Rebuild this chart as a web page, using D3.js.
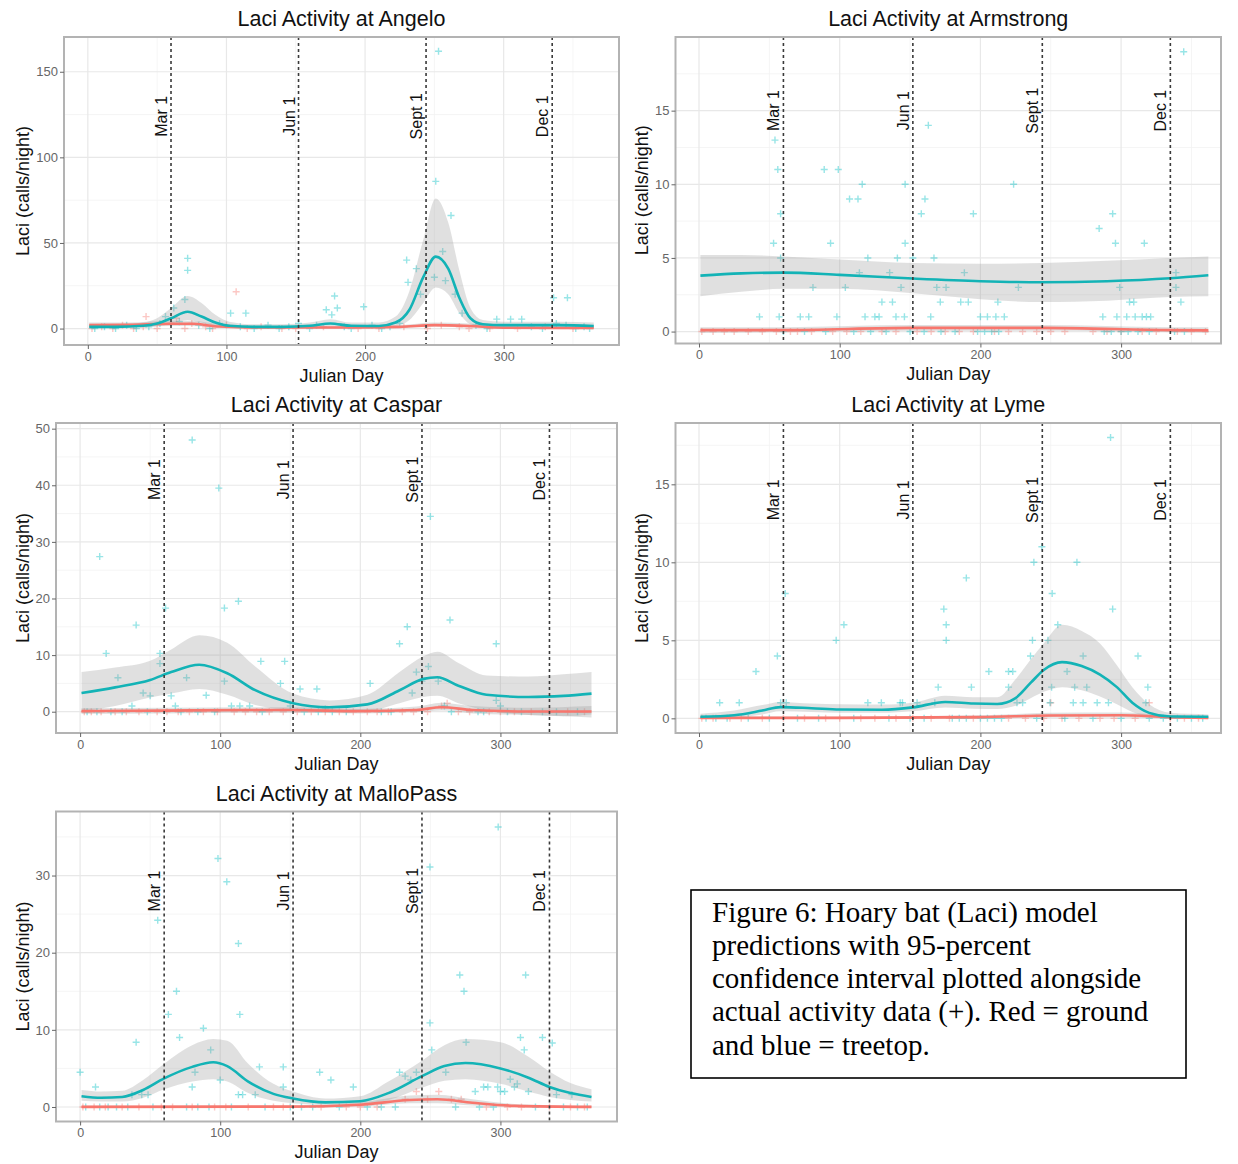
<!DOCTYPE html>
<html>
<head>
<meta charset="utf-8">
<script src="https://cdn.jsdelivr.net/npm/d3@7"></script>
<style>
body { margin: 0; background: #fff; }
svg text { font-family: "Liberation Sans", Arial, sans-serif; }
</style>
</head>
<body>
<svg id="fig" width="1238" height="1164"></svg>
<script>
// ---- data ----
// fits: [day, fit, lower95, upper95]
let angeloTree = [[1,1.0,0.3,2.5],[20,1.0,0.4,2.5],[40,1.6,0.6,3.5],[50,3.0,1.2,6],[60,6.0,2.8,12],[72,9.8,5,19],[82,7.0,3.5,15],[92,3.5,1.5,8],[102,1.6,0.6,4],[120,1.0,0.4,2.5],[140,1.0,0.4,2.5],[160,1.6,0.7,3.5],[175,3.0,1.5,5.5],[190,1.6,0.7,3.5],[210,1.5,0.6,3.5],[222,3.5,1.5,7],[232,11,5,22],[242,30,15,52],[251,42,24,76],[260,35,20,62],[268,18,9,34],[276,6,2.5,12],[285,2.5,1,5],[300,2,0.8,4],[320,2,0.8,4],[340,2,0.8,4],[365,1.5,0.5,3.5]];
let angeloGround = [[1,2,0.8,3.5],[30,2.2,1,3.5],[60,2.8,1.5,4.5],[75,2.8,1.5,4.5],[95,1.2,0.4,2.5],[130,0.6,0.1,1.5],[180,0.6,0.1,1.5],[225,1.0,0.3,2],[250,2.0,1,3.5],[275,1.5,0.6,3],[300,0.5,0.1,1.5],[365,0.3,0,1.2]];
let angeloTreePts = [[72,41],[72,34],[70,17],[62,12],[56,7],[66,4],[114,9],[103,9],[172,11],[178,19],[180,12],[176,8],[199,12.7],[230,40],[231,27],[237,35],[240,20],[253,162],[251,86],[262,66],[256,45],[265,20],[270,9],[295,5.5],[305,5.5],[313,5.5],[336,18],[346,18],[338,3],[250,30],[258,28],[5,0],[12,1],[20,0],[28,2],[35,0],[44,1],[52,3],[80,2],[88,0],[95,3],[110,1],[120,0],[130,2],[138,0],[145,1],[152,3],[160,0],[165,2],[185,1],[190,0],[205,2],[212,0],[218,1],[225,3],[280,2],[288,0],[320,1],[328,0],[345,2],[352,0],[358,1],[362,0]];
let angeloGroundPts = [[42,7],[107,21.5],[60,3],[64,6],[75,3],[85,1],[3,0],[10,1],[18,0],[25,2],[33,0],[40,1],[50,0],[70,0],[90,0],[100,2],[115,0],[125,1],[140,0],[150,0],[170,1],[195,0],[210,0],[228,1],[245,0],[255,2],[268,1],[275,0],[290,0],[310,0],[330,1],[350,0]];

let armstrongTree = [[1,3.8,2.4,5.2],[30,3.95,2.7,5.2],[60,4.0,2.9,5.1],[100,3.85,2.9,4.9],[152,3.6,2.6,4.65],[200,3.42,2.2,4.6],[244,3.35,2.0,4.65],[290,3.42,2.1,4.8],[335,3.62,2.35,5.0],[362,3.82,2.4,5.1]];
let armstrongGround = [[1,0.1,-0.1,0.3],[60,0.1,-0.05,0.3],[152,0.25,0.05,0.45],[244,0.25,0.05,0.45],[335,0.1,-0.05,0.3],[362,0.08,-0.1,0.3]];
let armstrongTreePts = [[54,13],[56,11],[58,8],[53,6],[58,5],[89,11],[99,11],[93.5,6],[81,3],[104,3],[107,9],[113,9],[116,10],[120,5],[114,4],[130,2],[137.5,2],[135.5,4],[141,5],[143.6,3],[146.5,10],[146.5,6],[152,5],[158,8],[160.6,9],[163,14],[167,5],[169,3],[175.6,3],[171.5,2],[164.7,1],[188.6,4],[186,2],[191.4,2],[195,8],[212.4,2],[223.6,10],[227,3],[284.4,7],[294,8],[296,6],[299,3],[306,2],[309,2],[316.5,6],[339,4],[339,3],[342.5,2],[344.5,19],[43,1],[57,1],[72,1],[78,1],[98,1],[118,1],[125,1],[128,1],[140,1],[146,1],[200,1],[205,1],[211,1],[217,1],[287,1],[297,1],[304,1],[310,1],[315,1],[318,1],[321,1],[60,0],[75,0],[90,0],[110,0],[122,0],[133,0],[150,0],[160,0],[172,0],[182,0],[198,0],[203,0],[208,0],[213,0],[288,0],[293,0],[300,0],[305,0],[312,0],[320,0],[338,0],[345,0]];
let armstrongGroundPts = [[2,0],[10,0],[18,0],[25,0],[35,0],[45,0],[55,0],[65,0],[70,0],[80,0],[95,0],[105,0],[115,0],[130,0],[140,0],[155,0],[165,0],[175,0],[185,0],[195,0],[210,0],[220,0],[230,0],[240,0],[250,0],[260,0],[280,0],[290,0],[300,0],[315,0],[325,0],[340,0],[350,0],[360,0]];

let casparTree = [[1,3.3,0.0,7.0],[25,4.3,1.0,7.8],[50,5.6,2.5,9.0],[65,7.0,3.2,11.0],[85,8.3,4.0,13.5],[105,6.8,3.0,12.2],[125,3.8,1.2,8.0],[152,1.5,0.3,3.2],[178,0.8,0.0,2.0],[205,1.3,0.1,3.0],[228,3.8,1.5,7.0],[245,5.8,2.6,9.8],[255,6.1,2.8,10.6],[270,4.6,1.5,8.6],[290,3.0,0.2,6.4],[320,2.6,-0.6,6.2],[345,2.8,-0.8,6.6],[365,3.2,-0.5,7.0]];
let casparGround = [[1,0.1,-0.4,0.6],[60,0.2,-0.3,0.7],[120,0.3,-0.2,0.8],[152,0.3,-0.2,0.8],[200,0.1,-0.3,0.5],[240,0.3,-0.1,0.9],[258,0.8,0.2,1.6],[280,0.3,-0.3,1.0],[320,0.05,-0.6,0.7],[365,0.05,-1.0,1.0]];
let casparTreePts = [[80,48],[99,39.5],[14,27.4],[40,15.3],[18.6,10.3],[27,6],[61,18.3],[57,10.3],[57,8.5],[76,6],[103,18.3],[113,19.5],[129,8.9],[146,8.9],[103,5.4],[90,2.9],[45,3.3],[50,2.8],[65,2.8],[143,5],[157,4],[169,4],[207,5],[228,12],[233.5,15],[240,7],[237,3.3],[250,34.5],[248.6,8],[244,5.4],[255.6,5.4],[264,16.2],[297,12],[297,2],[300,1],[37,1],[68,1],[108,1],[114,1],[121,1],[150,1],[175,0.5],[260,1],[5,0],[12,0],[22,0],[30,0],[48,0],[72,0],[84,0],[96,0],[130,0],[160,0],[170,0],[180,0],[190,0],[215,0],[222,0],[265,0],[284,0],[288,0],[305,0],[315,0],[330,0],[340,0],[355,0]];
let casparGroundPts = [[3,0],[8,0],[15,0],[25,0],[33,0],[42,0],[55,0],[62,0],[70,0],[78,0],[88,0],[98,0],[110,0],[118,0],[126,0],[135,0],[145,0],[155,0],[165,0],[175,0],[185,0],[195,0],[205,0],[212,0],[220,0],[230,0],[238,0],[248,0],[258,1],[262,1.5],[270,0],[278,0],[292,0],[300,0],[310,0],[322,0],[335,0],[348,0],[360,0]];

let lymeTree = [[1,0.1,0.0,0.3],[25,0.2,0.05,0.5],[45,0.5,0.25,0.85],[58,0.72,0.45,1.05],[80,0.65,0.4,0.95],[100,0.57,0.35,0.9],[130,0.55,0.35,0.88],[152,0.7,0.45,1.0],[175,1.05,0.7,1.45],[195,0.95,0.62,1.35],[212,0.92,0.6,1.35],[225,1.3,0.8,2.5],[236,2.3,1.3,3.8],[245,3.1,1.7,4.8],[258,3.6,2.0,6.0],[272,3.35,1.8,5.6],[285,2.8,1.4,4.8],[297,2.0,0.9,3.4],[308,1.0,0.4,2.0],[320,0.35,0.1,0.9],[335,0.12,0.03,0.35],[362,0.1,0.0,0.25]];
let lymeGround = [[1,0.03,-0.05,0.12],[100,0.03,-0.05,0.12],[200,0.08,-0.02,0.2],[250,0.18,0.05,0.35],[300,0.2,0.05,0.38],[335,0.08,-0.02,0.2],[362,0.03,-0.05,0.12]];
let lymeTreePts = [[292.5,18],[243.7,11],[238,10],[268.6,10],[190,9],[61.3,8],[251,8],[174,7],[294,7],[103,6],[175.7,6],[255,6],[97.5,5],[175.7,5],[237,5],[248,5],[55.7,4],[235.6,4],[273,4],[312,4],[40.5,3],[206,3],[220,3],[223,3],[261.6,3],[250.6,2],[267,2],[275.6,2],[319,2],[170,2],[193.6,2],[220,2],[14.7,1],[28.6,1],[120,1],[129.6,1],[143,1],[144.6,1],[155,1],[167.6,1],[226,1],[230,1],[249.5,1],[266,1],[273,1],[283,1],[291,1],[317.6,1],[58,1],[62,1],[5,0],[12,0],[20,0],[35,0],[50,0],[70,0],[85,0],[110,0],[135,0],[150,0],[160,0],[180,0],[185,0],[190,0],[200,0],[205,0],[210,0],[215,0],[240,0],[260,0],[280,0],[300,0],[320,0],[330,0],[340,0],[350,0],[358,0]];
let lymeGroundPts = [[2,0],[10,0],[22,0],[30,0],[45,0],[60,0],[75,0],[90,0],[100,0],[115,0],[125,0],[140,0],[152,0],[165,0],[178,0],[195,0],[220,0],[232,0],[245,0],[250,1],[258,0],[270,0],[285,0],[295,0],[310,0],[320,1],[335,0],[345,0],[355,0]];

let malloTree = [[1,1.4,0.8,2.2],[15,1.2,0.7,2.0],[30,1.3,0.7,2.1],[45,2.2,1.2,3.5],[60,3.7,2.3,5.6],[80,5.2,3.3,8.0],[95,5.8,3.6,8.8],[105,5.3,3.3,8.6],[120,3.3,1.8,5.6],[138,1.7,0.8,3.0],[152,1.1,0.5,2.0],[175,0.6,0.3,1.1],[200,0.75,0.35,1.4],[220,1.8,0.9,3.3],[244,4.0,2.5,6.0],[260,5.3,3.4,8.0],[275,5.7,3.6,8.8],[300,5.0,3.0,8.4],[320,3.8,2.0,6.5],[335,2.6,1.3,4.6],[350,1.8,0.9,3.1],[365,1.3,0.7,2.3]];
let malloGround = [[1,0.02,-0.1,0.15],[150,0.05,-0.05,0.2],[200,0.3,0.05,0.6],[235,0.9,0.5,1.5],[255,1.0,0.5,1.6],[280,0.55,0.2,1.0],[310,0.15,0.0,0.4],[365,0.02,-0.1,0.15]];
let malloTreePts = [[298.4,36.3],[98.4,32.2],[104.7,29.2],[249.7,31.1],[55.4,24.2],[113,21.2],[271,17.1],[318,17.1],[274,15],[68.8,15],[63,12],[114,12],[249.7,10.9],[88,10.2],[314.3,9],[330,9],[71,9],[337,8.3],[275.5,8.4],[317,7.4],[93.2,7.4],[40,8.4],[251,7.4],[128,5.2],[145,5.2],[228,4.5],[240,4.5],[82,4.5],[261,4.5],[171,4.5],[179,3.5],[298,2.6],[307,3.6],[310,2.6],[291,2.6],[80,2.6],[100,3.5],[116,1.6],[125,1.6],[145,2.6],[195,2.6],[0,4.5],[11,2.6],[288,2.6],[340,1.6],[351,1.6],[37,1.6],[44,1.6],[48.5,1.6],[113,1.6],[232,4],[236,3.5],[282,2],[300,2],[303,2],[312,3],[320,2],[4,0],[14,0],[20,0],[26,0],[34,0],[52,0],[76,0],[84,0],[92,0],[108,0],[132,0],[150,0],[158,0],[166,0],[185,0],[205,0],[215,0],[225,0],[268,0],[285,0],[295,0],[325,0],[345,0],[355,0],[362,0]];
let malloGroundPts = [[2,0],[10,0],[18,0],[30,0],[42,0],[58,0],[66,0],[80,0],[96,0],[104,0],[120,0],[138,0],[145,0],[172,0],[190,0],[200,0],[212,0],[232,1],[240,2],[248,1],[256,2],[265,1],[272,1],[290,0],[305,0],[315,0],[335,0],[350,0],[360,0]];

let siteNames = ['Angelo', 'Armstrong', 'Caspar', 'Lyme', 'MalloPass'];
let yTickSets = [[0,50,100,150],[0,5,10,15],[0,10,20,30,40,50],[0,5,10,15],[0,10,20,30]];
let yLimits = [[-9.6,170.3],[-0.81,20],[-3.76,51],[-0.94,18.93],[-1.88,38.3]];
let xLimits = [[-17.2,383.2],[-16.7,371],[-17.2,383.2],[-16.7,371],[-17.2,383.2]];
let labelHeights = [124, 15, 41, 14, 28];
let xTicks = [0, 100, 200, 300];
let monthDays = [60, 152, 244, 335];
let monthLabels = ['Mar 1', 'Jun 1', 'Sept 1', 'Dec 1'];
let captionLines = ['Figure 6: Hoary bat (Laci) model', 'predictions with 95-percent', 'confidence interval plotted alongside', 'actual activity data (+). Red = ground', 'and blue = treetop.'];

// panel boxes on the page: left, top, right, bottom
let boxes = [[64,37,619,345],[675.5,37,1221,343.5],[56,423,617,733],[675.5,423,1221,733],[56,811.5,617,1121.5]];

let fig = {};

fig.init = function(){
  this.svg = d3.select('#fig');
  let trees = [angeloTree, armstrongTree, casparTree, lymeTree, malloTree];
  let grounds = [angeloGround, armstrongGround, casparGround, lymeGround, malloGround];
  let treePts = [angeloTreePts, armstrongTreePts, casparTreePts, lymeTreePts, malloTreePts];
  let groundPts = [angeloGroundPts, armstrongGroundPts, casparGroundPts, lymeGroundPts, malloGroundPts];
  for(let i=0; i<siteNames.length; i++){
    this.drawPanel(i, {
      name: siteNames[i], tree: trees[i], ground: grounds[i],
      treePts: treePts[i], groundPts: groundPts[i],
      yTicks: yTickSets[i], yDomain: yLimits[i], xDomain: xLimits[i],
      labelY: labelHeights[i]
    });
  }
  this.drawCaption();
};

fig.drawPanel = function(i, site){
  let svg = this.svg;
  let [left, top, right, bottom] = boxes[i];
  let sx = d3.scaleLinear().domain(site.xDomain).range([left, right]);
  let sy = d3.scaleLinear().domain(site.yDomain).range([bottom, top]);
  let g = svg.append('g');

  g.append('clipPath').attr('id', 'clip'+i)
  .append('rect')
  .attr('x', left).attr('y', top)
  .attr('width', right-left).attr('height', bottom-top);

  // grid
  let yStep = site.yTicks[1]-site.yTicks[0];
  let yMinor = site.yTicks.map(d=>d+yStep/2).filter(d=>d<site.yDomain[1]);
  let xMinor = xTicks.map(d=>d+50).filter(d=>d<site.xDomain[1]);
  let grid = g.append('g');
  grid.selectAll('.hmin').data(yMinor).enter().append('line')
  .attr('x1', left).attr('x2', right)
  .attr('y1', d=>sy(d)).attr('y2', d=>sy(d))
  .attr('stroke', '#f3f3f3').attr('stroke-width', 0.8);
  grid.selectAll('.vmin').data(xMinor).enter().append('line')
  .attr('y1', top).attr('y2', bottom)
  .attr('x1', d=>sx(d)).attr('x2', d=>sx(d))
  .attr('stroke', '#f3f3f3').attr('stroke-width', 0.8);
  grid.selectAll('.hmaj').data(site.yTicks.filter(d=>d<site.yDomain[1])).enter().append('line')
  .attr('x1', left).attr('x2', right)
  .attr('y1', d=>sy(d)).attr('y2', d=>sy(d))
  .attr('stroke', '#e8e8e8').attr('stroke-width', 1.2);
  grid.selectAll('.vmaj').data(xTicks).enter().append('line')
  .attr('y1', top).attr('y2', bottom)
  .attr('x1', d=>sx(d)).attr('x2', d=>sx(d))
  .attr('stroke', '#e8e8e8').attr('stroke-width', 1.2);

  let plot = g.append('g').attr('clip-path', 'url(#clip'+i+')');

  // raw data as "+"
  let plus = d=>`M${sx(d[0])-3.5},${sy(d[1])}h7M${sx(d[0])},${sy(d[1])-3.5}v7`;
  plot.selectAll('.gpt').data(site.groundPts).enter().append('path')
  .attr('d', plus).attr('stroke', '#F8766D').attr('stroke-width', 1.4)
  .attr('opacity', 0.4);
  plot.selectAll('.tpt').data(site.treePts).enter().append('path')
  .attr('d', plus).attr('stroke', '#00BFC4').attr('stroke-width', 1.4)
  .attr('opacity', 0.4);

  // ribbons and fits
  let band = d3.area()
  .x(d=>sx(d[0])).y0(d=>sy(d[2])).y1(d=>sy(d[3]))
  .curve(d3.curveMonotoneX);
  let line = d3.line()
  .x(d=>sx(d[0])).y(d=>sy(d[1]))
  .curve(d3.curveMonotoneX);
  [site.ground, site.tree].forEach(s=>{
    plot.append('path').attr('d', band(s))
    .attr('fill', '#999').attr('opacity', 0.3);
  });
  plot.append('path').attr('d', line(site.ground))
  .attr('fill', 'none').attr('stroke', '#F8766D').attr('stroke-width', 2.6);
  plot.append('path').attr('d', line(site.tree))
  .attr('fill', 'none').attr('stroke', '#13B3B6').attr('stroke-width', 2.6);

  // month markers
  g.selectAll('.vline').data(monthDays).enter().append('line')
  .attr('x1', d=>sx(d)).attr('x2', d=>sx(d))
  .attr('y1', top).attr('y2', bottom)
  .attr('stroke', '#3a3a3a').attr('stroke-width', 1.6)
  .attr('stroke-dasharray', '3,3');
  g.selectAll('.mlab').data(monthDays).enter().append('text')
  .attr('transform', d=>`translate(${sx(d)-4},${sy(site.labelY)}) rotate(-90)`)
  .attr('text-anchor', 'middle')
  .attr('font-size', 16)
  .attr('fill', '#111')
  .text((_,k)=>monthLabels[k]);

  // border
  g.append('rect')
  .attr('x', left).attr('y', top)
  .attr('width', right-left).attr('height', bottom-top)
  .attr('fill', 'none').attr('stroke', '#b3b3b3').attr('stroke-width', 2);

  // axes
  let ya = g.append('g').attr('transform', `translate(${left},0)`)
  .call(d3.axisLeft(sy).tickValues(site.yTicks.filter(d=>d<site.yDomain[1])).tickSize(4).tickPadding(2));
  let xa = g.append('g').attr('transform', `translate(0,${bottom})`)
  .call(d3.axisBottom(sx).tickValues(xTicks).tickSize(4).tickPadding(3));
  [ya, xa].forEach(a=>{
    a.select('.domain').remove();
    a.selectAll('line').attr('stroke', '#666');
    a.selectAll('text').attr('fill', '#666').attr('font-size', 13)
    .attr('font-family', '"Liberation Sans", Arial, sans-serif');
  });
  xa.selectAll('text').attr('font-size', 12.5);

  let maxW = d3.max(ya.selectAll('text').nodes(), n=>n.getBBox().width);

  // titles
  g.append('text')
  .attr('x', (left+right)/2).attr('y', top-11)
  .attr('text-anchor', 'middle').attr('font-size', 21.5).attr('fill', '#111')
  .text('Laci Activity at ' + site.name);
  g.append('text')
  .attr('x', (left+right)/2).attr('y', bottom+36.5)
  .attr('text-anchor', 'middle').attr('font-size', 18).attr('fill', '#111')
  .text('Julian Day');
  g.append('text')
  .attr('transform', `translate(${left-6-maxW-7},${(top+bottom)/2}) rotate(-90)`)
  .attr('text-anchor', 'middle').attr('font-size', 18).attr('fill', '#111')
  .text('Laci (calls/night)');
};

fig.drawCaption = function(){
  let svg = this.svg;
  svg.append('rect')
  .attr('x', 691).attr('y', 890)
  .attr('width', 495).attr('height', 188)
  .attr('fill', 'none').attr('stroke', '#000').attr('stroke-width', 1.6);
  svg.selectAll('.cap').data(captionLines).enter().append('text')
  .attr('x', 712)
  .attr('y', (_,k)=>921.5 + k*33.3)
  .attr('font-size', 29)
  .style('font-family', '"Liberation Serif", "Times New Roman", serif')
  .attr('fill', '#000')
  .text(d=>d);
};

fig.init();
</script>
</body>
</html>
